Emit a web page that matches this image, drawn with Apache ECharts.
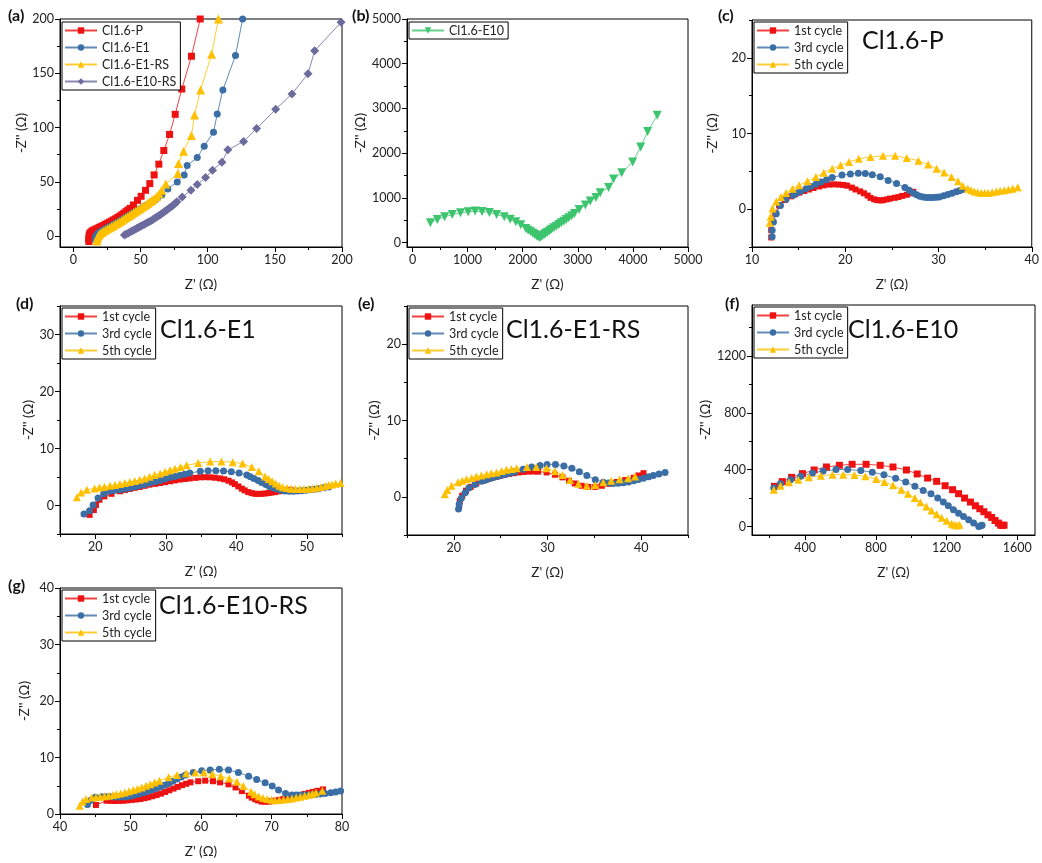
<!DOCTYPE html>
<html>
<head>
<meta charset="utf-8">
<script src="https://cdn.jsdelivr.net/npm/echarts@6/dist/echarts.min.js"></script>
<style>
html, body { margin: 0; padding: 0; background: #fff; }
#chart { width: 1042px; height: 863px; }
</style>
</head>
<body>
<div id="chart"></div>
<script>
// (a) low-frequency Nyquist tails
var aP = [[11.5,-5],[11.5,-3],[11.6,-1],[11.8,1],[12.2,2.5],[13,3.8],[14,4.8],[15.2,5.6],[16.5,6.4],[18,7.3],[19.5,8.2],[21,9.1],[22.5,10],[24,11],[25.5,12],[27,13],[28.5,14],[30,15],[31.5,16],[33,17.2],[34.5,18.4],[36,19.7],[37.5,21],[39,22.5],[40.5,24],[42.2,25.6],[44.7,28.7],[47.7,33],[50.4,36.7],[53.7,42.2],[56.9,48.4],[60.1,56.4],[63.6,66.3],[67.3,78.9],[71.6,93.7],[75.8,112.2],[80.7,135.5],[87.9,165.7],[94.4,200],[96,210]];
var aE1 = [[16.2,-3.5],[16.4,-1.5],[16.8,0.2],[17.5,1.6],[18.5,2.8],[19.7,3.9],[21,4.9],[22.5,5.9],[24,6.9],[25.5,7.9],[27,8.9],[28.5,9.9],[30,10.9],[31.5,11.9],[33,12.9],[34.5,14],[36,15.1],[37.5,16.2],[39,17.3],[40.5,18.4],[42,19.5],[43.5,20.6],[45,21.7],[46.5,22.8],[48,23.9],[49.5,25],[51,26.1],[52.5,27.2],[54,28.3],[55.5,29.4],[57,30.5],[58.5,31.6],[60,32.8],[62.5,34.9],[65.8,37.9],[70.3,43.5],[77.3,49.9],[82.5,56.4],[84.7,65],[92.2,72.4],[97.4,82.9],[104.3,95.8],[107.1,112.5],[111.3,134.7],[120.7,166.4],[126,200],[127,210]];
var aE1RS = [[17.5,-4.5],[17.7,-2.5],[18.1,-0.8],[18.8,0.8],[19.8,2.2],[21,3.4],[22.4,4.5],[23.9,5.6],[25.4,6.7],[27,7.8],[28.5,8.9],[30,10],[31.5,11.1],[33,12.2],[34.5,13.3],[36,14.5],[37.5,15.7],[39,16.9],[40.5,18.1],[42,19.3],[43.5,20.5],[45,21.7],[46.5,22.9],[48,24.1],[49.5,25.3],[51,26.5],[52.5,27.7],[54,29],[55.5,30.3],[57,31.6],[58.5,33],[60,34.5],[62,36.5],[63.8,39],[65.8,42.2],[68.8,48.1],[77.8,57.6],[78.3,66.9],[82,78.3],[87.9,92.8],[90.2,111.6],[94.7,134.7],[102.9,167.6],[108,200],[109,210]];
var aE10RS = [[38,1],[39.5,2],[41,3],[42.5,4],[44,5],[45.5,6],[47,7],[48.5,8],[50,9],[51.5,10],[53,11],[54.5,12],[56,13],[57.5,14],[59,15.2],[60.5,16.4],[62,17.6],[63.5,18.8],[65,20],[66.5,21.3],[68,22.6],[69.5,24],[71,25.4],[72.5,26.8],[74,28.3],[75.5,29.8],[77,31.7],[81,36.1],[87.5,42.2],[92.2,47.5],[98.4,53.9],[103.6,60.7],[110.6,68.1],[115,79.5],[126.7,87.2],[136.4,99.2],[150.6,116.8],[162.7,131],[174.7,149.5],[179.6,170.7],[199.3,196.9]];

// (b) Cl1.6-E10
var bE10 = [[324,441],[450,516],[583,575],[721,628],[871,665],[1010,688],[1136,703],[1262,695],[1394,673],[1526,628],[1665,575],[1773,523],[1875,463],[1965,396],[2055,314],[2100,276],[2145,239],[2185,205],[2218,179],[2250,150],[2278,127],[2308,112],[2330,128],[2356,149],[2386,176],[2416,202],[2450,232],[2488,262],[2525,296],[2566,329],[2610,366],[2656,404],[2700,441],[2746,478],[2790,515],[2837,553],[2890,600],[2939,650],[3023,740],[3137,837],[3227,927],[3329,1009],[3407,1114],[3558,1233],[3648,1420],[3798,1562],[3996,1801],[4141,2138],[4267,2481],[4441,2848]];

// (c) Cl1.6-P cycles
var cFirst = [[12.06,-3.74],[12.06,-2.77],[12.2,-1.7],[12.5,-0.6],[12.9,0.5],[13.5,1.2],[14.2,1.7],[14.6,1.95],[15.1,2.2],[15.6,2.4],[16.1,2.6],[16.6,2.8],[17.2,3.0],[17.7,3.15],[18.3,3.25],[18.8,3.28],[19.3,3.25],[19.8,3.2],[20.2,3.1],[20.7,2.85],[21.1,2.6],[21.6,2.35],[22.0,2.1],[22.4,1.8],[22.7,1.5],[23.1,1.3],[23.4,1.2],[23.8,1.15],[24.1,1.2],[24.5,1.3],[24.8,1.4],[25.3,1.5],[25.7,1.6],[26.1,1.75],[26.6,1.9],[27.0,2.1],[27.3,2.3]];
var cThird = [[12.16,-3.65],[12.16,-2.77],[12.3,-1.7],[12.6,-0.6],[13.05,0.5],[13.65,1.3],[14.4,1.85],[14.8,2.1],[15.25,2.4],[15.8,2.7],[16.3,3.0],[16.85,3.3],[17.4,3.6],[18.0,3.9],[18.6,4.2],[19.65,4.5],[20.55,4.65],[21.4,4.75],[22.15,4.7],[22.9,4.55],[23.75,4.3],[24.6,3.8],[25.5,3.4],[26.4,2.85],[26.85,2.5],[27.3,2.15],[27.65,1.9],[28,1.7],[28.35,1.6],[28.7,1.55],[29.05,1.53],[29.4,1.55],[29.75,1.57],[30.1,1.6],[30.55,1.78],[31.0,1.95],[31.45,2.12],[31.9,2.3],[32.25,2.45],[32.6,2.6]];
var cFifth = [[11.9,-1.8],[12,-1],[12.2,0.1],[12.6,1],[13.1,1.6],[13.65,2.15],[14.35,2.7],[15.05,3.15],[15.95,3.7],[16.85,4.25],[17.7,4.8],[18.6,5.35],[19.5,5.8],[20.4,6.25],[21.45,6.65],[22.7,6.9],[24.05,7.05],[25.35,7.05],[26.6,6.75],[27.85,6.4],[28.9,5.9],[29.8,5.35],[30.6,4.85],[31.4,4.25],[32.1,3.7],[32.6,3.1],[33.15,2.7],[33.5,2.5],[33.85,2.35],[34.2,2.25],[34.6,2.15],[34.95,2.13],[35.3,2.15],[35.75,2.25],[36.2,2.35],[36.6,2.42],[37.05,2.5],[37.5,2.6],[37.95,2.7],[38.5,2.9]];

// (d) Cl1.6-E1 cycles
var dFirst = [[19.2,-1.65],[19.8,-0.8],[20.1,0.1],[20.6,1.0],[21.3,1.6],[22.3,2.05],[23.5,2.5],[24.2,2.7],[24.9,2.9],[25.6,3.1],[26.3,3.25],[27,3.45],[27.7,3.65],[28.5,3.8],[29.2,3.95],[29.9,4.1],[30.6,4.25],[31.3,4.4],[32,4.55],[32.7,4.65],[33.4,4.75],[34.2,4.85],[34.9,4.95],[35.6,4.97],[36.3,4.95],[37,4.87],[37.7,4.75],[38.3,4.6],[38.9,4.35],[39.4,4.05],[39.8,3.75],[40.3,3.35],[40.8,2.95],[41.2,2.65],[41.7,2.35],[42.2,2.17],[42.7,2.05],[43.1,2.03],[43.6,2.05],[44.1,2.1],[44.6,2.2],[45,2.28],[45.5,2.35],[46,2.48],[46.5,2.6],[47.1,2.68],[47.7,2.75]];
var dThird = [[18.4,-1.5],[19.2,-0.9],[19.7,0.1],[20.4,1.3],[21.2,2.05],[22,2.5],[22.7,2.62],[23.5,2.75],[24.2,2.9],[24.9,3.05],[25.6,3.25],[26.3,3.45],[27,3.7],[27.7,3.95],[28.5,4.17],[29.2,4.4],[29.9,4.65],[30.6,4.9],[31.3,5.1],[32,5.3],[32.7,5.5],[33.4,5.7],[34.9,6],[36,6.1],[37.1,6.1],[38.2,6.05],[39.3,5.9],[40.4,5.7],[41.5,5.35],[42,5.05],[42.5,4.75],[43.1,4.4],[43.6,4.05],[44.2,3.7],[44.7,3.35],[45.2,3.1],[45.7,2.9],[46.3,2.7],[46.9,2.55],[47.5,2.5],[48.1,2.5],[48.7,2.55],[49.3,2.6],[49.9,2.68],[50.5,2.75],[51.1,2.85],[51.7,2.95],[52.4,3.1],[53.1,3.25]];
var dFifth = [[17.4,1.45],[18,2.3],[18.8,2.75],[19.9,3],[20.6,3.15],[21.3,3.3],[22.1,3.45],[22.8,3.6],[23.5,3.78],[24.2,3.95],[24.9,4.12],[25.6,4.3],[26.3,4.5],[27,4.75],[27.7,5.05],[28.4,5.35],[29.2,5.62],[29.9,5.9],[30.6,6.18],[31.3,6.45],[32.1,6.75],[32.96,7.05],[34.6,7.45],[36.3,7.7],[37.9,7.7],[39.5,7.6],[40.9,7.35],[42.2,6.75],[43.2,6],[44.1,5.1],[44.6,4.65],[45.1,4.25],[45.6,3.85],[46.1,3.45],[46.6,3.22],[47.2,3.05],[47.8,2.96],[48.4,2.9],[49,2.9],[49.6,2.9],[50.2,2.94],[50.8,3],[51.4,3.12],[52,3.25],[52.6,3.42],[53.1,3.6],[53.6,3.7],[54.1,3.8],[54.8,3.95]];

// (e) Cl1.6-E1-RS cycles
var eFirst = [[20.57,-1.2],[20.64,-0.55],[20.9,0.15],[21.3,0.8],[21.8,1.3],[22.4,1.75],[23.1,2.1],[23.5,2.28],[24,2.45],[24.45,2.6],[24.9,2.75],[25.4,2.88],[25.9,3],[26.4,3.1],[26.9,3.2],[27.4,3.25],[27.95,3.3],[28.5,3.32],[29,3.3],[29.9,3.2],[30.8,2.9],[31.6,2.55],[32.3,2.1],[32.9,1.75],[33.65,1.45],[34.35,1.3],[35.1,1.3],[35.8,1.45],[36.5,1.7],[37.4,1.95],[38.3,2.2],[39.2,2.5],[39.7,2.8],[40.25,3.1]];
var eThird = [[20.5,-1.6],[20.57,-0.95],[20.8,-0.2],[21.2,0.55],[21.6,1.15],[22.25,1.6],[22.95,2.05],[23.4,2.22],[23.85,2.4],[24.3,2.55],[24.75,2.7],[25.2,2.85],[25.6,3],[26.05,3.12],[26.5,3.25],[27.4,3.6],[28.3,3.9],[29.2,4.1],[29.95,4.25],[30.85,4.25],[31.75,4.05],[32.6,3.75],[33.4,3.3],[34.2,2.8],[35.1,2.25],[35.95,1.9],[36.5,1.8],[37,1.75],[37.55,1.78],[38.1,1.85],[38.65,1.95],[39.2,2.1],[39.7,2.28],[40.25,2.45],[40.8,2.62],[41.3,2.8],[41.9,3],[42.55,3.2]];
var eFifth = [[19.04,0.35],[19.3,0.9],[19.75,1.45],[20.45,1.9],[20.9,2.1],[21.35,2.3],[21.9,2.48],[22.4,2.65],[22.95,2.8],[23.5,2.95],[24,3.08],[24.55,3.2],[25.1,3.38],[25.6,3.55],[26.15,3.65],[26.7,3.75],[27.8,3.9],[28.8,3.9],[29.9,3.75],[30.8,3.35],[31.6,2.85],[32.4,2.2],[33.3,1.7],[34.2,1.45],[35.1,1.55],[35.95,1.9],[36.8,2.1],[37.7,2.3],[38.6,2.45],[39.35,2.65]];

// (f) Cl1.6-E10 cycles
var fFirst = [[227,283],[271,316],[324,346],[385,372],[451,398],[521,419],[594,431],[666,438],[745,438],[825,431],[897,419],[973,398],[1034,370],[1093,341],[1144,318],[1192,287],[1234,259],[1268,231],[1302,200],[1335,172],[1363,146],[1388,125],[1411,104],[1434,82],[1455,64],[1474,42],[1493,24],[1506,9],[1515,8],[1525,9]];
var fThird = [[223,271],[261,301],[318,330],[375,353],[442,377],[502,391],[575,401],[641,401],[715,394],[780,382],[846,365],[912,339],[969,313],[1021,283],[1068,254],[1112,231],[1150,200],[1182,172],[1210,146],[1239,118],[1268,94],[1296,71],[1325,47],[1353,24],[1382,0],[1392,6],[1401,9]];
var fFifth = [[223,259],[261,287],[309,311],[362,330],[422,346],[489,358],[555,365],[616,365],[679,363],[741,353],[802,334],[849,313],[897,290],[944,259],[982,231],[1020,200],[1052,170],[1086,141],[1115,113],[1144,87],[1172,61],[1201,40],[1229,19],[1244,12],[1258,7],[1273,12]];

// (g) Cl1.6-E10-RS cycles
var gFirst = [[45.1,1.6],[46.6,2.35],[47.2,2.32],[47.8,2.3],[48.4,2.32],[49,2.35],[49.6,2.42],[50.2,2.5],[50.8,2.57],[51.4,2.65],[52,2.8],[52.5,2.95],[53.1,3.15],[53.7,3.35],[54.3,3.6],[54.9,3.9],[55.5,4.2],[56.1,4.5],[56.7,4.8],[57.3,5.1],[57.9,5.35],[58.5,5.6],[59.6,5.8],[60.6,5.9],[61.7,5.8],[62.7,5.6],[63.9,5.25],[64.9,4.7],[65.8,4.05],[66.8,3.25],[67.2,2.9],[67.7,2.6],[68.1,2.4],[68.6,2.2],[69.1,2.18],[69.6,2.2],[70,2.27],[70.5,2.35],[71.1,2.5],[71.7,2.65],[72.3,2.82],[72.9,3],[73.5,3.18],[74.1,3.35],[74.7,3.55],[75.3,3.75],[75.9,3.92],[76.5,4.1],[77.3,4.35]];
var gThird = [[43.9,1.7],[44.4,2.45],[45,2.95],[45.9,3.05],[46.5,3.05],[47.1,3.05],[47.7,3.02],[48.3,3],[48.9,3.02],[49.5,3.05],[50.1,3.2],[50.6,3.35],[51.2,3.55],[51.8,3.75],[52.4,4],[53,4.25],[53.6,4.52],[54.2,4.8],[54.8,5.1],[55.4,5.4],[56,5.8],[56.6,6.2],[57.2,6.55],[57.8,6.9],[58.9,7.35],[60.1,7.65],[61.3,7.8],[62.6,7.9],[63.9,7.8],[65.3,7.35],[66.75,6.7],[67.9,6.1],[69.1,5.55],[70.1,4.95],[71,4.25],[72,3.65],[72.9,3.35],[73.5,3.35],[74.1,3.35],[74.8,3.35],[75.5,3.35],[76.2,3.45],[76.9,3.55],[77.6,3.65],[78.4,3.75],[79.1,3.9],[79.8,4.05]];
var gFifth = [[42.8,1.45],[43.2,2.2],[43.7,2.65],[44.5,2.9],[45.1,2.98],[45.7,3.05],[46.3,3.15],[46.9,3.25],[47.5,3.38],[48,3.5],[48.6,3.65],[49.2,3.8],[49.8,4.02],[50.4,4.25],[51,4.48],[51.6,4.7],[52.2,4.98],[52.8,5.25],[53.4,5.58],[54.1,5.9],[55.4,6.5],[56.6,6.9],[57.9,7.2],[59.2,7.35],[60.4,7.35],[61.6,7.1],[62.8,6.7],[64,6.3],[65.1,5.7],[66,4.95],[67.1,3.95],[67.6,3.5],[68.2,3.1],[68.8,2.85],[69.4,2.65],[70,2.52],[70.5,2.45],[71.1,2.48],[71.7,2.55],[72.3,2.65],[72.9,2.75],[73.5,2.9],[74.1,3.05],[74.7,3.22],[75.3,3.4],[75.8,3.6],[76.3,3.8],[77.2,4.1]];

// axis ticks per panel
var aMajor = [0, 50, 100, 150, 200], aMinor = [25, 75, 125, 175];
var bMajor = [0, 1000, 2000, 3000, 4000, 5000], bMinor = [500, 1500, 2500, 3500, 4500];
var cxMajor = [10, 20, 30, 40], cxMinor = [15, 25, 35];
var cyMajor = [0, 10, 20], cyMinor = [-5, 5, 15, 25];
var dxMajor = [20, 30, 40, 50], dxMinor = [15, 25, 35, 45, 55];
var dyMajor = [0, 10, 20, 30], dyMinor = [-5, 5, 15, 25, 35];
var exMajor = [20, 30, 40], exMinor = [15, 25, 35, 45];
var fMajor = [400, 800, 1200, 1600], fMinor = [200, 600, 1000, 1400];
var fyMajor = [0, 400, 800, 1200], fyMinor = [200, 600, 1000, 1400];
var gxMajor = [40, 50, 60, 70, 80], gxMinor = [45, 55, 65, 75];
var gyMajor = [0, 10, 20, 30, 40], gyMinor = [5, 15, 25, 35];

var RED = '#ee1111', BLUE = '#3a6ea5', YELLOW = '#ffc000', PURPLE = '#6b6b9e', GREEN = '#3dc46e';
var FONT = 'Lato, "Open Sans", sans-serif';

var panels = [
    { tag: '(a)', rect: [60, 19, 282, 228], x: [-10, 200, aMajor, aMinor], y: [-10, 200, aMajor, aMinor], yGap: 31, tagPos: [8, 8], legend: [62, 22] },
    { tag: '(b)', rect: [407, 19, 281, 228], x: [-100, 5000, bMajor, bMinor], y: [-100, 5000, bMajor, bMinor], yGap: 37, tagPos: [352, 8], legend: [409, 22] },
    { tag: '(c)', rect: [752, 20, 282, 227], x: [10, 40, cxMajor, cxMinor], y: [-5, 25, cyMajor, cyMinor], yGap: 32, tagPos: [718, 8], legend: [754, 22], title: 'Cl1.6-P', titlePos: [862, 28] },
    { tag: '(d)', rect: [60, 306, 282, 228], x: [15, 55, dxMajor, dxMinor], y: [-5, 35, dyMajor, dyMinor], yGap: 20, tagPos: [16, 296], legend: [62, 308], title: 'Cl1.6-E1', titlePos: [160, 317] },
    { tag: '(e)', rect: [407, 306, 281, 229], x: [15, 45, exMajor, exMinor], y: [-5, 25, cyMajor, cyMinor], yGap: 25, tagPos: [358, 296], legend: [409, 308], title: 'Cl1.6-E1-RS', titlePos: [506, 317] },
    { tag: '(f)', rect: [752, 305, 283, 230], x: [100, 1700, fMajor, fMinor], y: [-60, 1560, fyMajor, fyMinor], yGap: 38, tagPos: [725, 296], legend: [754, 307], title: 'Cl1.6-E10', titlePos: [848, 317] },
    { tag: '(g)', rect: [60, 588, 282, 226], x: [40, 80, gxMajor, gxMinor], y: [0, 40, gyMajor, gyMinor], yGap: 28, tagPos: [8, 578], legend: [62, 590], title: 'Cl1.6-E10-RS', titlePos: [159, 593] }
];

var seriesDefs = [
    [0, 'Cl1.6-P', aP, RED, 'rect', 7],
    [0, 'Cl1.6-E1', aE1, BLUE, 'circle', 7],
    [0, 'Cl1.6-E1-RS', aE1RS, YELLOW, 'triangle', 9],
    [0, 'Cl1.6-E10-RS', aE10RS, PURPLE, 'diamond', 9],
    [1, 'Cl1.6-E10', bE10, GREEN, 'triangle', 9, 180],
    [2, '1st cycle', cFirst, RED, 'rect', 6],
    [2, '3rd cycle', cThird, BLUE, 'circle', 7],
    [2, '5th cycle', cFifth, YELLOW, 'triangle', 8],
    [3, '1st cycle', dFirst, RED, 'rect', 6],
    [3, '3rd cycle', dThird, BLUE, 'circle', 7],
    [3, '5th cycle', dFifth, YELLOW, 'triangle', 8],
    [4, '1st cycle', eFirst, RED, 'rect', 6],
    [4, '3rd cycle', eThird, BLUE, 'circle', 7],
    [4, '5th cycle', eFifth, YELLOW, 'triangle', 8],
    [5, '1st cycle', fFirst, RED, 'rect', 7],
    [5, '3rd cycle', fThird, BLUE, 'circle', 7],
    [5, '5th cycle', fFifth, YELLOW, 'triangle', 8],
    [6, '1st cycle', gFirst, RED, 'rect', 6],
    [6, '3rd cycle', gThird, BLUE, 'circle', 7],
    [6, '5th cycle', gFifth, YELLOW, 'triangle', 8]
];

function make_axis(kind, gridIndex, range, minor, p)
{
    var ax = {
        type: 'value',
        gridIndex: gridIndex,
        position: kind == 'x' ? 'bottom' : 'left',
        min: range[0],
        max: range[1],
        splitLine: { show: false },
        axisLine: { show: true, onZero: false, lineStyle: { color: '#000', width: 1 } }
    };
    if (minor) {
        ax.axisLine.show = false;
        ax.axisLabel = { show: false };
        ax.axisTick = { show: true, length: 3, customValues: range[3], lineStyle: { color: '#000' } };
        return ax;
    }
    ax.axisTick = { show: true, length: 5, customValues: range[2], lineStyle: { color: '#000' } };
    ax.axisLabel = {
        show: true, customValues: range[2], color: '#222', fontSize: 12.5, fontFamily: FONT, margin: 6,
        formatter: function (v) { return String(v); }
    };
    ax.nameLocation = 'middle';
    ax.nameTextStyle = { color: '#222', fontSize: 13.5, fontFamily: FONT };
    if (kind == 'x') {
        ax.name = "Z' (\u03A9)";
        ax.nameGap = 31;
    } else {
        ax.name = "-Z'' (\u03A9)";
        ax.nameGap = p.yGap;
    }
    return ax;
}

var grids = [], xAxes = [], yAxes = [], series = [], legends = [], graphics = [];

for (var i = 0; i < panels.length; i++) {
    var p = panels[i];
    grids.push({ left: p.rect[0], top: p.rect[1], width: p.rect[2], height: p.rect[3], show: true, borderColor: '#000', borderWidth: 1, containLabel: false });
    xAxes.push(make_axis('x', i, p.x, false, p));
    xAxes.push(make_axis('x', i, p.x, true, p));
    yAxes.push(make_axis('y', i, p.y, false, p));
    yAxes.push(make_axis('y', i, p.y, true, p));

    graphics.push({ type: 'text', left: p.tagPos[0], top: p.tagPos[1], style: { text: p.tag, font: 'bold 16px ' + FONT, fill: '#111' } });
    if (p.title) {
        graphics.push({ type: 'text', left: p.titlePos[0], top: p.titlePos[1], z: 100, style: { text: p.title, font: '25px ' + FONT, fill: '#111' } });
    }
}

for (var j = 0; j < seriesDefs.length; j++) {
    var d = seriesDefs[j];
    series.push({
        name: d[1],
        type: 'line',
        xAxisIndex: d[0] * 2,
        yAxisIndex: d[0] * 2,
        data: d[2],
        symbol: d[4],
        symbolSize: d[5],
        symbolRotate: d[6] || 0,
        showAllSymbol: true,
        clip: true,
        color: d[3],
        itemStyle: { color: d[3] },
        lineStyle: { color: d[3], width: 1, opacity: 0.8 },
        animation: false
    });
}

var legendNames = [
    ['Cl1.6-P', 'Cl1.6-E1', 'Cl1.6-E1-RS', 'Cl1.6-E10-RS'],
    ['Cl1.6-E10'],
    ['1st cycle', '3rd cycle', '5th cycle'],
    ['1st cycle', '3rd cycle', '5th cycle'],
    ['1st cycle', '3rd cycle', '5th cycle'],
    ['1st cycle', '3rd cycle', '5th cycle'],
    ['1st cycle', '3rd cycle', '5th cycle']
];
for (var k = 0; k < panels.length; k++) {
    legends.push({
        left: panels[k].legend[0],
        top: panels[k].legend[1],
        orient: 'vertical',
        data: legendNames[k],
        selectedMode: false,
        borderColor: '#000',
        borderWidth: 1,
        backgroundColor: '#fff',
        padding: [2, 4, 2, 2],
        itemGap: 4,
        itemWidth: 32,
        itemHeight: 8,
        textStyle: { fontSize: 12.5, fontFamily: FONT, color: '#222' }
    });
}

var chart = echarts.init(document.getElementById('chart'));
chart.setOption({
    animation: false,
    backgroundColor: '#fff',
    grid: grids,
    xAxis: xAxes,
    yAxis: yAxes,
    legend: legends,
    series: series,
    graphic: graphics
});
</script>
</body>
</html>
